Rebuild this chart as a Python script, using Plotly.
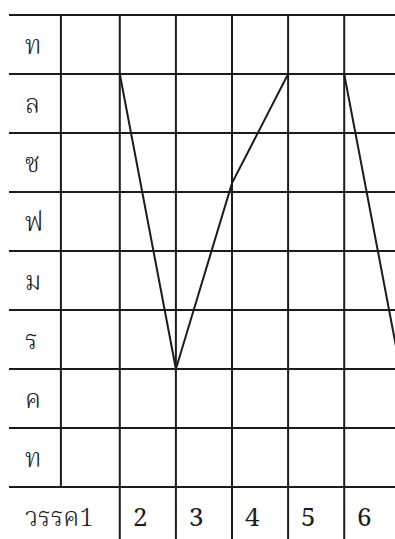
import plotly.graph_objects as go

# Table content
row_labels = ["ท", "ล", "ซ", "ฟ", "ม", "ร", "ค", "ท"]      # top to bottom
col_labels = ["วรรค1", "2", "3", "4", "5", "6"]
# Zigzag path: value level at the right edge of each column
path_x = [1, 2, 3, 4, 5, 6]
path_y = [7, 2, 5.15, 7, 7, 2]

W, H = 395, 539
n_rows = len(row_labels)
n_cols = len(col_labels)

X_RANGE = [-1.1355, 5.9055]
Y_RANGE = [-0.881, 8.254]
LEFT_EDGE = -0.975     # where horizontal rules start
LABEL_EDGE = -0.05     # rule between label column and first column
INK = "#1c1c1c"
FONT = "Noto Serif Thai, Norasi, Tlwg Typo, Liberation Serif, serif"

fig = go.Figure()

shapes = []
# horizontal rules
for lvl in range(0, n_rows + 1):
    shapes.append(dict(type="line", xref="x", yref="y",
                       x0=LEFT_EDGE, x1=X_RANGE[1] + 1, y0=lvl, y1=lvl,
                       line=dict(color=INK, width=2)))
# rule separating row labels (stops above the bottom row)
shapes.append(dict(type="line", xref="x", yref="y",
                   x0=LABEL_EDGE, x1=LABEL_EDGE, y0=0, y1=n_rows,
                   line=dict(color=INK, width=2)))
# column rules running down through the bottom row
for k in range(1, n_cols + 1):
    shapes.append(dict(type="line", xref="x", yref="y",
                       x0=k, x1=k, y0=Y_RANGE[0] - 1, y1=n_rows,
                       line=dict(color=INK, width=2)))

fig.add_trace(go.Scatter(x=path_x, y=path_y, mode="lines",
                         line=dict(color=INK, width=2),
                         hoverinfo="skip", showlegend=False))

annotations = []
for i, lab in enumerate(row_labels):
    annotations.append(dict(xref="x", yref="y", x=-0.72, y=n_rows - i - 0.55,
                            text=lab, showarrow=False, xanchor="left",
                            yanchor="middle",
                            font=dict(family=FONT, size=26, color=INK,
                                      weight=300)))
# bottom row labels
annotations.append(dict(xref="x", yref="y", x=-0.72, y=-0.54,
                        text=col_labels[0], showarrow=False, xanchor="left",
                        yanchor="middle",
                        font=dict(family=FONT, size=26, color=INK,
                                  weight=300)))
for k, lab in enumerate(col_labels[1:], start=2):
    annotations.append(dict(xref="x", yref="y", x=(k - 1) + 0.365, y=-0.54,
                            text=lab, showarrow=False, xanchor="center",
                            yanchor="middle",
                            font=dict(family=FONT, size=26, color=INK)))

fig.update_layout(
    width=W, height=H,
    margin=dict(l=0, r=0, t=0, b=0),
    paper_bgcolor="white", plot_bgcolor="white",
    shapes=shapes, annotations=annotations,
    xaxis=dict(range=X_RANGE, visible=False, fixedrange=True),
    yaxis=dict(range=Y_RANGE, visible=False, fixedrange=True),
    showlegend=False,
)

fig.write_html("out.html", config={"displayModeBar": False})
